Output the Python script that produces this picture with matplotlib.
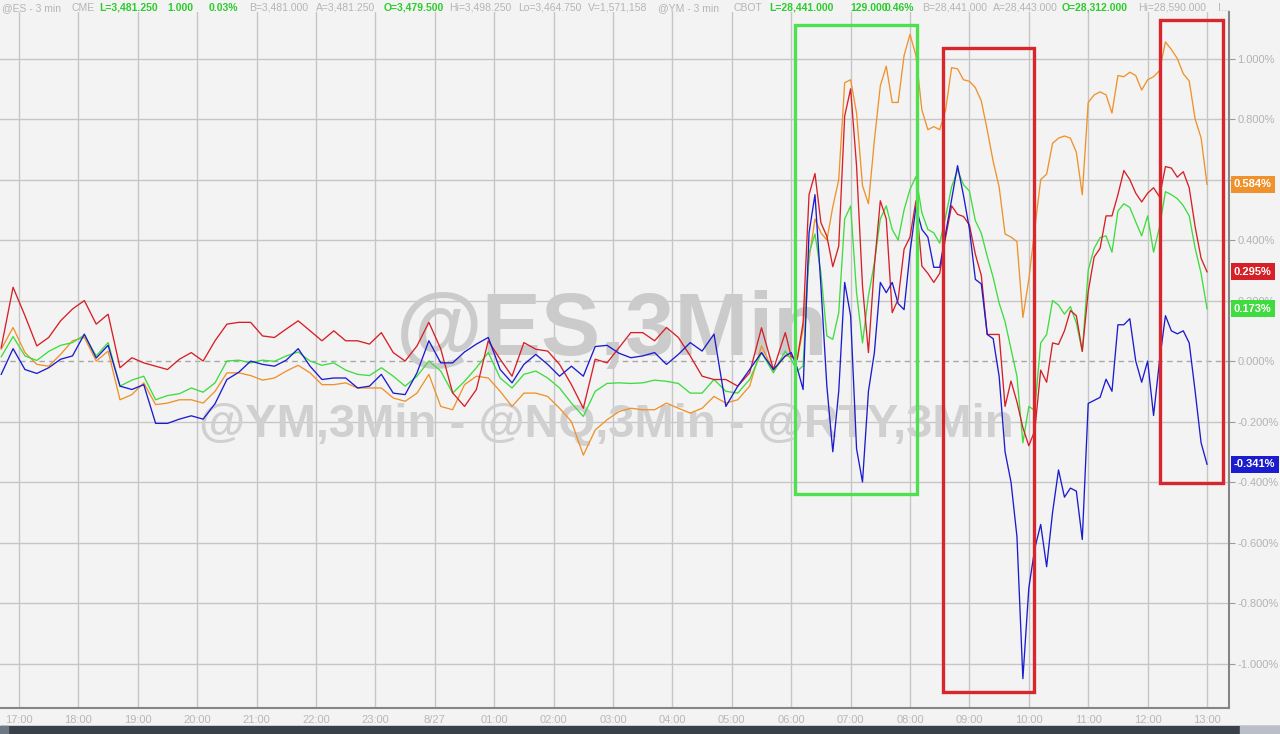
import matplotlib.pyplot as plt
from matplotlib.patches import Rectangle
import numpy as np

# time axis in hours after 17:00 (8/26); 12-min samples overnight, 6-min samples from 06:00
hours_night = np.arange(67) * 0.2 - 0.3
hours_day = 13.0 + np.arange(71) * 0.1
hours = np.concatenate([hours_night, hours_day])

# % change
es_night = [0.044, 0.244, 0.15, 0.05, 0.078, 0.133, 0.172, 0.2, 0.122, 0.155,
            -0.022, 0.011, -0.006, -0.017, -0.028, 0.006, 0.028, 0.0, 0.067, 0.122,
            0.128, 0.128, 0.083, 0.078, 0.106, 0.133, 0.1, 0.067, 0.1, 0.067,
            0.067, 0.056, 0.094, 0.028, 0.0, 0.05, 0.128, 0.04, -0.105, -0.15,
            -0.094, 0.067, 0.006, -0.05, 0.061, 0.039, 0.033, -0.011, -0.078, -0.156,
            0.006, -0.006, 0.044, 0.094, 0.094, 0.067, 0.111, 0.078, 0.017, -0.05,
            -0.061, -0.061, -0.083, -0.039, 0.11, -0.028, 0.094]
es_day = [0.015, 0.005, 0.127, 0.55, 0.62, 0.457, 0.413, 0.312, 0.38, 0.81,
          0.9, 0.645, 0.248, 0.028, 0.315, 0.53, 0.47, 0.16, 0.204, 0.37,
          0.41, 0.53, 0.314, 0.29, 0.26, 0.29, 0.41, 0.513, 0.485, 0.478,
          0.45, 0.353, 0.283, 0.088, 0.088, 0.088, -0.15, -0.066, -0.135, -0.22,
          -0.28, -0.23, -0.03, -0.07, 0.06, 0.055, 0.1, 0.167, 0.15, 0.032,
          0.23, 0.344, 0.373, 0.48, 0.48, 0.55, 0.63, 0.6, 0.555, 0.526,
          0.555, 0.573, 0.543, 0.643, 0.638, 0.608, 0.626, 0.573, 0.444, 0.34,
          0.295]

nq_night = [0.039, 0.111, 0.028, -0.011, -0.017, 0.022, 0.067, 0.078, 0.0, 0.033,
            -0.128, -0.111, -0.072, -0.144, -0.139, -0.128, -0.128, -0.139, -0.1, -0.039,
            -0.039, -0.048, -0.063, -0.056, -0.033, -0.014, -0.039, -0.078, -0.078, -0.072,
            -0.089, -0.089, -0.089, -0.122, -0.133, -0.106, -0.044, -0.15, -0.161, -0.078,
            -0.05, -0.056, -0.1, -0.15, -0.106, -0.106, -0.117, -0.156, -0.2, -0.311,
            -0.228, -0.194, -0.167, -0.156, -0.161, -0.161, -0.139, -0.156, -0.172, -0.156,
            -0.117, -0.139, -0.128, -0.083, 0.05, -0.033, 0.017]
nq_day = [0.015, 0.005, 0.105, 0.336, 0.47, 0.424, 0.4, 0.51, 0.6, 0.92,
          0.93, 0.82, 0.58, 0.52, 0.73, 0.91, 0.975, 0.855, 0.855, 1.01,
          1.08, 1.01, 0.83, 0.765, 0.775, 0.765, 0.83, 0.97, 0.966, 0.93,
          0.925, 0.904, 0.86, 0.764, 0.66, 0.576, 0.42, 0.41, 0.395, 0.144,
          0.27, 0.437, 0.6, 0.618, 0.72, 0.737, 0.744, 0.737, 0.69, 0.55,
          0.855, 0.88, 0.89, 0.88, 0.82, 0.944, 0.94, 0.955, 0.944, 0.896,
          0.93, 0.94, 0.96, 1.055, 1.03, 1.0, 0.95, 0.926, 0.8, 0.738,
          0.584]

ym_night = [0.014, 0.081, 0.017, 0.002, 0.032, 0.052, 0.061, 0.086, 0.017, 0.061,
            -0.083, -0.063, -0.05, -0.128, -0.114, -0.108, -0.089, -0.103, -0.072, 0.0,
            0.003, -0.006, 0.003, -0.001, 0.017, 0.03, 0.0, -0.014, -0.006, -0.03,
            -0.044, -0.048, -0.022, -0.05, -0.083, -0.05, 0.0, -0.033, -0.106, -0.067,
            -0.022, 0.028, -0.056, -0.089, -0.044, -0.033, -0.056, -0.089, -0.139, -0.183,
            -0.1, -0.074, -0.072, -0.074, -0.072, -0.063, -0.067, -0.074, -0.106, -0.106,
            -0.061, -0.1, -0.106, -0.061, 0.028, -0.039, 0.033]
ym_day = [0.005, -0.033, -0.016, 0.358, 0.42, 0.292, 0.083, 0.072, 0.16, 0.47,
          0.513, 0.226, 0.06, 0.215, 0.325, 0.47, 0.513, 0.435, 0.4, 0.5,
          0.568, 0.61, 0.49, 0.435, 0.424, 0.39, 0.478, 0.576, 0.632, 0.583,
          0.562, 0.464, 0.423, 0.346, 0.276, 0.192, 0.13, 0.04, -0.05, -0.27,
          -0.15, -0.163, 0.06, 0.088, 0.2, 0.185, 0.155, 0.18, 0.126, 0.032,
          0.3, 0.373, 0.408, 0.414, 0.36, 0.496, 0.52, 0.508, 0.46, 0.414,
          0.48, 0.36, 0.443, 0.56, 0.55, 0.537, 0.514, 0.48, 0.373, 0.29,
          0.173]

rty_night = [-0.044, 0.041, -0.028, -0.041, -0.022, 0.006, 0.017, 0.089, 0.01, 0.052,
             -0.083, -0.094, -0.078, -0.206, -0.206, -0.192, -0.181, -0.192, -0.141, -0.061,
             -0.037, 0.0, -0.011, -0.017, 0.003, 0.041, -0.017, -0.061, -0.056, -0.056,
             -0.089, -0.083, -0.044, -0.106, -0.111, -0.039, 0.067, -0.006, -0.006, 0.03,
             0.056, 0.078, -0.028, -0.072, -0.011, 0.022, -0.011, -0.05, -0.017, -0.05,
             0.048, 0.052, 0.026, 0.011, 0.017, 0.028, -0.011, 0.022, 0.061, 0.033,
             0.089, -0.15, -0.083, -0.028, 0.028, -0.028, 0.017]
rty_day = [0.028, -0.022, -0.094, 0.424, 0.55, 0.248, -0.083, -0.3, -0.1, 0.26,
           0.15, -0.29, -0.40, -0.1, 0.028, 0.26, 0.226, 0.26, 0.19, 0.17,
           0.36, 0.51, 0.435, 0.41, 0.31, 0.31, 0.423, 0.534, 0.646, 0.548,
           0.437, 0.27, 0.255, 0.088, 0.074, -0.05, -0.3, -0.4, -0.58, -1.05,
           -0.75, -0.62, -0.54, -0.68, -0.5, -0.36, -0.45, -0.42, -0.43, -0.59,
           -0.14, -0.13, -0.12, -0.06, -0.1, 0.12, 0.12, 0.14, 0.0, -0.07,
           0.0, -0.18, 0.0, 0.15, 0.1, 0.09, 0.1, 0.06, -0.1, -0.27,
           -0.341]

hour_labels = ['17:00', '18:00', '19:00', '20:00', '21:00', '22:00', '23:00', '8/27',
               '01:00', '02:00', '03:00', '04:00', '05:00', '06:00', '07:00', '08:00',
               '09:00', '10:00', '11:00', '12:00', '13:00']
pct_ticks = [-1.0, -0.8, -0.6, -0.4, -0.2, 0.0, 0.2, 0.4, 0.6, 0.8, 1.0]

# highlight boxes: (hour from, hour to, pct low, pct high, colour)
boxes = [(13.06, 15.12, -0.44, 1.111, '#4fe04f'),
         (15.56, 17.09, -1.094, 1.035, '#d9262c'),
         (19.21, 20.27, -0.403, 1.127, '#d9262c')]

series = [('@NQ', np.array(nq_night + nq_day), '#f0922b'),
          ('@YM', np.array(ym_night + ym_day), '#3fdc3f'),
          ('@ES', np.array(es_night + es_day), '#d62027'),
          ('@RTY', np.array(rty_night + rty_day), '#1c1ccf')]

bg = '#f3f3f3'
fig = plt.figure(figsize=(12.8, 7.34), dpi=100, facecolor=bg)
ax = fig.add_axes([0, 26 / 734, 1229 / 1280, 696 / 734], facecolor=bg)
ax.set_xlim(-0.32, 20.37)
ax.set_ylim(-1.147, 1.154)

for v in pct_ticks:
    if v == 0:
        ax.axhline(v, color='#a8a8a8', lw=1, ls=(0, (4, 3)), zorder=1)
    else:
        ax.axhline(v, color='#c6c6c6', lw=1, zorder=1)
for h in range(len(hour_labels)):
    ax.axvline(h, color='#c6c6c6', lw=1, zorder=1)

# watermarks
ax.text(612 / 1280, 379 / 734, '@ES,3Min', transform=fig.transFigure, ha='center',
        va='baseline', fontsize=64, fontweight='bold', family='Liberation Sans',
        color='#cbcbcb', zorder=1.5)
ax.text(606 / 1280, 297 / 734, '@YM,3Min - @NQ,3Min - @RTY,3Min', transform=fig.transFigure,
        ha='center', va='baseline', fontsize=34, fontweight='bold', family='Liberation Sans',
        color='#d0d0d0', zorder=1.5)

for name, vals, col in series:
    ax.plot(hours, vals, color=col, lw=0.95, zorder=3)

for h0, h1, lo, hi, col in boxes:
    ax.add_patch(Rectangle((h0, lo), h1 - h0, hi - lo, fill=False, edgecolor=col,
                           lw=2.4, zorder=5, clip_on=False))

# last value tags on the right axis
for name, vals, col in series:
    ax.text(1.004, vals[-1], f'{vals[-1]:.3f}%', transform=ax.get_yaxis_transform(),
            ha='left', va='center', fontsize=8, fontweight='bold', color='white',
            family='Liberation Sans', clip_on=False, zorder=6,
            bbox=dict(boxstyle='square,pad=0.3', fc=col, ec='none'))

ax.yaxis.tick_right()
ax.set_yticks(pct_ticks)
# the 0.600% label sits under the orange tag in the original
ax.set_yticklabels(['' if v == 0.6 else f'{v:.3f}%' for v in pct_ticks])
ax.set_xticks(range(len(hour_labels)))
ax.set_xticklabels(hour_labels)
ax.tick_params(axis='y', colors='#9a9a9a', labelcolor='#b3b3b3', labelsize=8, length=4, pad=2)
ax.tick_params(axis='x', colors='#8a8a8a', labelcolor='#b8b8b8', labelsize=8, length=0, pad=5,
               top=True, direction='in')
for lab in ax.get_xticklabels() + ax.get_yticklabels():
    lab.set_family('Liberation Sans')
for s in ['top', 'left']:
    ax.spines[s].set_visible(False)
for s in ['right', 'bottom']:
    ax.spines[s].set_color('#858585')
    ax.spines[s].set_linewidth(1.5)

# header quote line
header = [(2, '@ES - 3 min', '#b5b5b5', 'normal'), (71, 'CME', '#b5b5b5', 'normal'),
          (99, 'L=3,481.250', '#2ccc2c', 'bold'), (167, '1.000', '#2ccc2c', 'bold'),
          (209, '0.03%', '#2ccc2c', 'bold'), (249, 'B=3,481.000', '#b5b5b5', 'normal'),
          (316, 'A=3,481.250', '#b5b5b5', 'normal'), (384, 'O=3,479.500', '#2ccc2c', 'bold'),
          (449, 'Hi=3,498.250', '#b5b5b5', 'normal'), (518, 'Lo=3,464.750', '#b5b5b5', 'normal'),
          (588, 'V=1,571,158', '#b5b5b5', 'normal'), (658, '@YM - 3 min', '#b5b5b5', 'normal'),
          (734, 'CBOT', '#b5b5b5', 'normal'), (769, 'L=28,441.000', '#2ccc2c', 'bold'),
          (850, '129.000', '#2ccc2c', 'bold'), (885, '0.46%', '#2ccc2c', 'bold'),
          (922, 'B=28,441.000', '#b5b5b5', 'normal'), (993, 'A=28,443.000', '#b5b5b5', 'normal'),
          (1062, 'O=28,312.000', '#2ccc2c', 'bold'), (1138, 'Hi=28,590.000', '#b5b5b5', 'normal'),
          (1218, 'I...', '#b5b5b5', 'normal')]
for px, txt, col, wt in header:
    fig.text(px / 1280, 726 / 734, txt, color=col, fontsize=7.5, fontweight=wt,
             family='Liberation Sans', ha='left', va='center')

# bottom scroll bar
fig.patches.append(Rectangle((0, 0), 1, 8 / 734, transform=fig.transFigure, color='#3a404a'))
fig.patches.append(Rectangle((0, 0), 8 / 1280, 8 / 734, transform=fig.transFigure, color='#6e7784'))
fig.patches.append(Rectangle((1240 / 1280, 0), 40 / 1280, 8 / 734, transform=fig.transFigure,
                             color='#b9bec7'))

fig.savefig('out.png', dpi=100, facecolor=bg)
